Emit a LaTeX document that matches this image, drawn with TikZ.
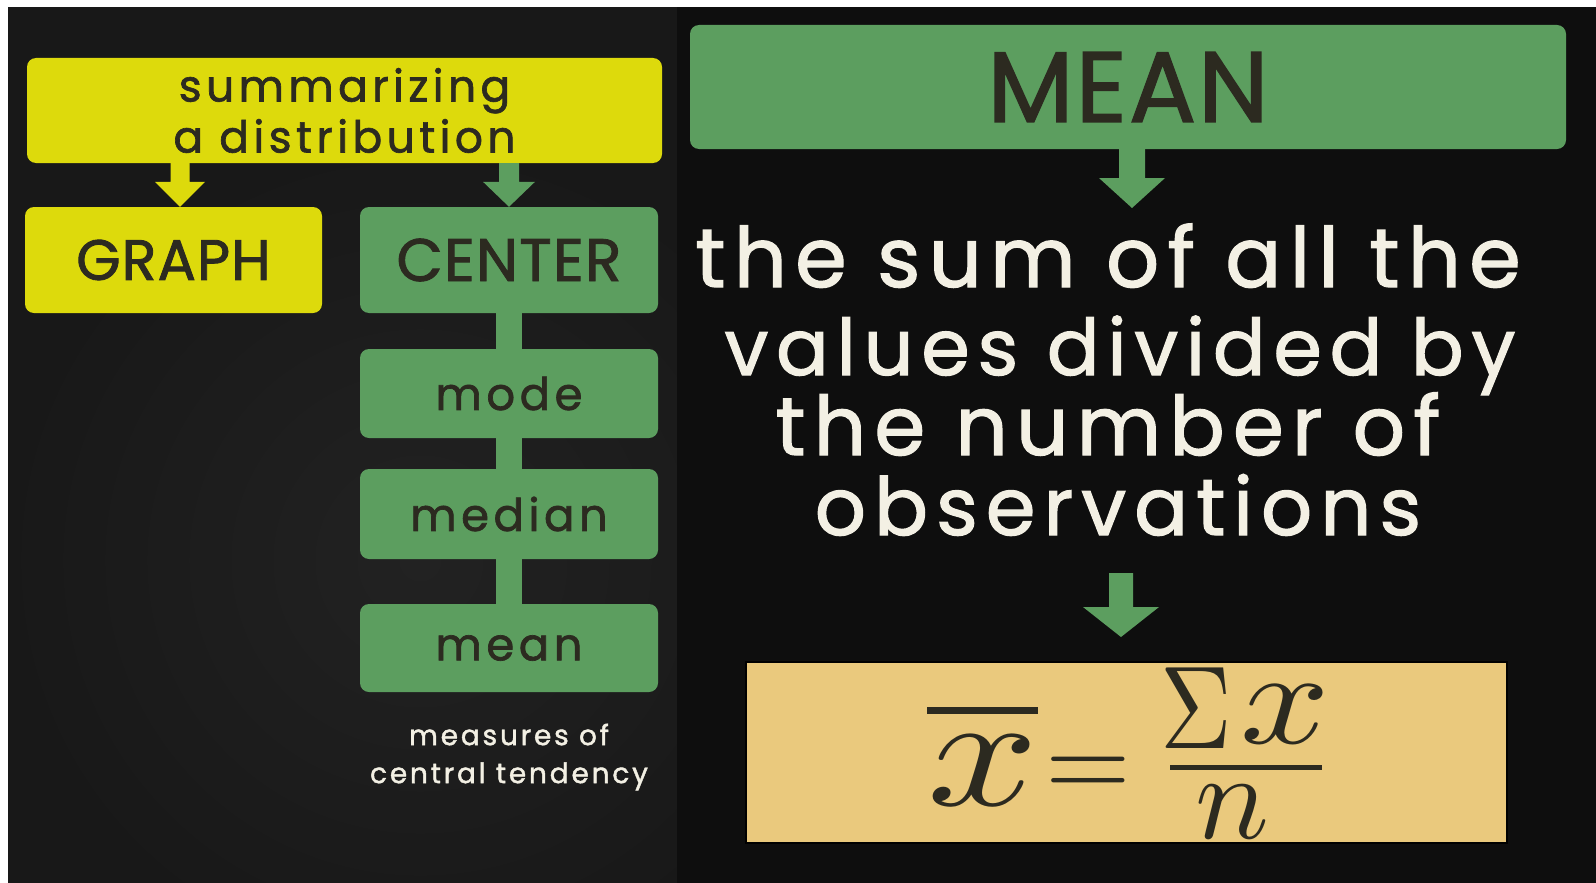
\documentclass[tikz,border=0pt]{standalone}
\usepackage{fontspec}
\usepackage{unicode-math}
\usepackage{graphicx}
\setmainfont{Poppins}
\newfontfamily\handwide[LetterSpace=10,FakeBold=1.5]{Poppins}
\newfontfamily\handcaps[LetterSpace=2,FakeBold=1.5]{Poppins}
\setmathfont{Latin Modern Math}
\usetikzlibrary{calc}
\definecolor{ylw}{HTML}{DDDA0C}
\definecolor{grn}{HTML}{5C9E5F}
\definecolor{tanbox}{HTML}{EAC97D}
\definecolor{ink}{HTML}{2C2A20}
\definecolor{chalk}{HTML}{F3F0E4}
\definecolor{bgl}{HTML}{181818}
\definecolor{bglight}{HTML}{222222}
\definecolor{bgr}{HTML}{0E0E0E}
\tikzset{
  ybox/.style={fill=ylw, rounded corners=9pt, inner sep=0pt, text=ink},
  gbox/.style={fill=grn, rounded corners=9pt, inner sep=0pt, text=ink},
  stemline/.style={draw=grn, line width=26pt},
  chalktext/.style={text=chalk, inner sep=0pt, anchor=base, font=\handwide\fontsize{80}{80}\selectfont},
  fml/.style={text=ink, inner sep=0pt},
}
\newcommand\fatarrow[6]{%
  \fill[#6] ($(#1)+(-#3/2,0)$) -- ($(#2)+(-#3/2,-#5)$) -- ($(#2)+(-#4/2,-#5)$) -- (#2)
    -- ($(#2)+(#4/2,-#5)$) -- ($(#2)+(#3/2,-#5)$) -- ($(#1)+(#3/2,0)$) -- cycle;}
\begin{document}
\begin{tikzpicture}[x=1pt,y=-1pt]
\useasboundingbox (0,0) rectangle (1596,883);
\fill[white] (0,0) rectangle (1596,883);
\fill[bgl] (8,7) rectangle (677,883);
\begin{scope}
  \clip (8,7) rectangle (677,883);
  \shade[inner color=bglight, outer color=bgl] (420,560) circle (420pt);
\end{scope}
\fill[bgr] (677,7) rectangle (1596,883);

% left panel
\node[ybox, minimum width=635pt, minimum height=105pt, align=center,
      font=\handwide\fontsize{44}{51}\selectfont] (sum) at (344.5,110.5) {summarizing\\a distribution};
\node[ybox, minimum width=297pt, minimum height=106pt,
      font=\handcaps\fontsize{57}{57}\selectfont] (graph) at (173.5,260) {GRAPH};
\node[gbox, minimum width=298pt, minimum height=106pt,
      font=\handcaps\fontsize{60}{60}\selectfont] (center) at (509,260) {CENTER};
\node[gbox, minimum width=298pt, minimum height=89pt,
      font=\handwide\fontsize{45}{45}\selectfont] (mode) at (509,393.5) {mode};
\node[gbox, minimum width=298pt, minimum height=90pt,
      font=\handwide\fontsize{45}{45}\selectfont] (median) at (509,514) {median};
\node[gbox, minimum width=298pt, minimum height=88pt,
      font=\handwide\fontsize{45}{45}\selectfont] (meanb) at (509,648) {mean};
\draw[stemline] (center.south) -- (mode.north);
\draw[stemline] (mode.south) -- (median.north);
\draw[stemline] (median.south) -- (meanb.north);
\node[text=chalk, align=center, inner sep=0pt,
      font=\handwide\fontsize{28}{38}\selectfont] (measures) at (509,757) {measures of\\central tendency};

\coordinate (ya) at (180,0);
\coordinate (a1s) at (sum.south -| ya);
\coordinate (a1e) at (graph.north -| ya);
\fatarrow{a1s}{a1e}{19}{50}{25}{ylw}
\coordinate (a2s) at (sum.south -| center.north);
\fatarrow{a2s}{center.north}{20}{52}{25}{grn}

% right panel
\node[gbox, minimum width=876pt, minimum height=124pt,
      font=\handcaps\fontsize{100}{100}\selectfont] (MEAN) at (1128,87) {MEAN};
\node[chalktext, font=\handwide\fontsize{83}{83}\selectfont] (l1) at (1108,287) {the sum of all the};
\node[chalktext, font=\handwide\fontsize{78}{78}\selectfont] (l2) at (1120,375) {values divided by};
\node[chalktext, font=\handwide\fontsize{82}{82}\selectfont] (l3) at (1108,455) {the number of};
\node[chalktext] (l4) at (1118,535) {observations};
\coordinate (mx) at (1132,0);
\coordinate (a3s) at (MEAN.south -| mx);
\coordinate (a3e) at (1132,208);
\fatarrow{a3s}{a3e}{26}{66}{30}{grn}

\node[fill=tanbox, draw=black, line width=1.2pt, minimum width=761pt, minimum height=181pt,
      inner sep=0pt] (fbox) at (1126.5,752.5) {};
\coordinate (a4s) at (1121,573);
\coordinate (a4e) at (1121,637);
\fatarrow{a4s}{a4e}{24}{76}{30}{grn}

\node[fml, anchor=base west, font=\fontsize{162}{162}\selectfont] (fx) at (927,805) {\scalebox{1.2}[1]{$\overline{x}$}};
\node[fml, anchor=base, font=\fontsize{110}{110}\selectfont] (feq) at (1088.5,797) {$=$};
\node[fml, anchor=base west, font=\fontsize{118}{118}\selectfont] (fsig) at (1160,748) {\scalebox{0.84}[1]{$\Sigma$}};
\node[fml, anchor=base west, font=\fontsize{135}{135}\selectfont] (fnum) at (1240,743) {\scalebox{1.16}[1]{$x$}};
\draw[ink, line width=5pt] (1170,767.5) -- (1322,767.5);
\node[fml, anchor=base west, font=\fontsize{123}{123}\selectfont] (fden) at (1195,838) {$n$};
\end{tikzpicture}
\end{document}
